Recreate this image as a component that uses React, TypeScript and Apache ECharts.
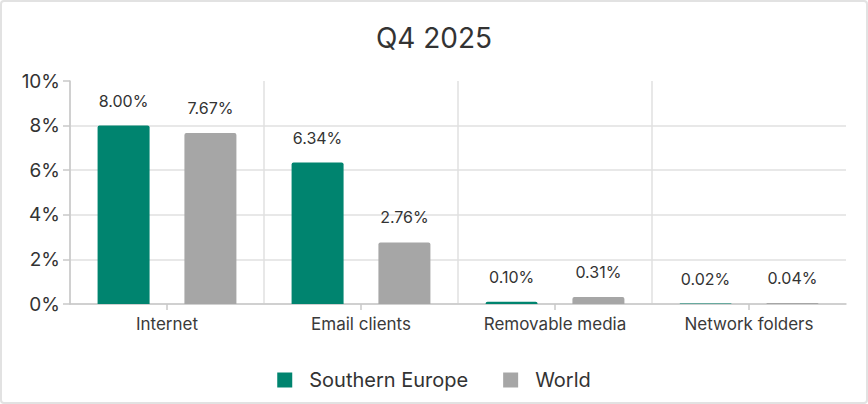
import React, { useEffect, useRef } from "react";
import * as echarts from "echarts";

const categories = ["Internet", "Email clients", "Removable media", "Network folders"];
const southernEurope = [8.0, 6.34, 0.1, 0.02];
const world = [7.67, 2.76, 0.31, 0.04];
const yTicks = [0, 2, 4, 6, 8, 10];
const seriesNames = ["Southern Europe", "World"];
const title = "Q4 2025";

const FONT = "Inter, 'Noto Sans', sans-serif";
const TEXT = "#333333";

export default function App() {
  const ref = useRef<HTMLDivElement>(null);
  useEffect(() => {
    document.body.style.margin = "0";
    if (!ref.current) return;
    const chart = echarts.init(ref.current, undefined, { renderer: "svg" });
    const label = {
      show: true,
      position: "top" as const,
      distance: 17,
      fontSize: 16,
      fontFamily: FONT,
      color: TEXT,
      formatter: (p: any) => Number(p.value).toFixed(2) + "%",
    };
    chart.setOption({
      animation: false,
      backgroundColor: "#ffffff",
      textStyle: { fontFamily: FONT },
      title: {
        text: title,
        left: "center",
        top: 19,
        textStyle: { fontSize: 28, fontWeight: "normal", color: TEXT, fontFamily: FONT },
      },
      graphic: [
        {
          type: "rect",
          silent: true,
          z: -10,
          shape: { x: 1, y: 1, width: 866, height: 402, r: 3 },
          style: { fill: "none", stroke: "#e2e2e2", lineWidth: 2 },
        },
      ],
      legend: {
        bottom: 9,
        left: "center",
        icon: "rect",
        itemWidth: 15,
        itemHeight: 15,
        itemGap: 35,
        data: seriesNames,
        textStyle: { fontSize: 20, color: TEXT, fontFamily: FONT, padding: [0, 0, 0, 12] },
      },
      grid: { left: 70, right: 22, top: 81, bottom: 100 },
      xAxis: {
        type: "category",
        data: categories,
        axisLine: { lineStyle: { color: "#c8c8c8", width: 1.5 } },
        axisTick: { show: true, alignWithLabel: true, length: 6, lineStyle: { color: "#c8c8c8", width: 1.5 } },
        axisLabel: { fontSize: 17, color: "#3a3a3a", margin: 11, fontFamily: FONT },
        splitLine: { show: true, showMaxLine: false, lineStyle: { color: "#e0e0e0", width: 1.5 } },
      },
      yAxis: {
        type: "value",
        min: yTicks[0],
        max: yTicks[yTicks.length - 1],
        interval: 2,
        axisLine: { show: true, lineStyle: { color: "#c8c8c8", width: 1.5 } },
        axisTick: { show: true, length: 7, lineStyle: { color: "#c8c8c8", width: 1.5 } },
        axisLabel: { fontSize: 19, color: TEXT, margin: 10, formatter: "{value}%", fontFamily: FONT },
        splitLine: { show: true, showMaxLine: false, lineStyle: { color: "#e0e0e0", width: 1.5 } },
      },
      series: [
        {
          name: seriesNames[0],
          type: "bar",
          data: southernEurope,
          barWidth: 52,
          barGap: "67%",
          itemStyle: { color: "#00846f", borderRadius: [2, 2, 0, 0] },
          label,
        },
        {
          name: seriesNames[1],
          type: "bar",
          data: world,
          barWidth: 52,
          itemStyle: { color: "#a6a6a6", borderRadius: [2, 2, 0, 0] },
          label,
        },
      ],
    });
    return () => chart.dispose();
  }, []);
  return <div ref={ref} style={{ width: 868, height: 404 }} />;
}
